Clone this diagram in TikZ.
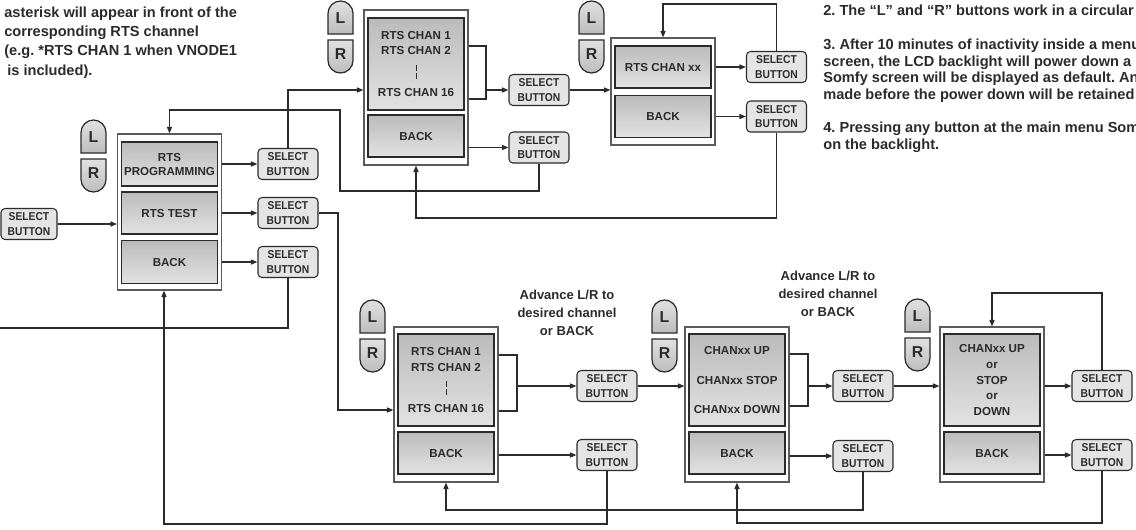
\documentclass[tikz,border=0pt]{standalone}
\usepackage{fontspec}
\setmainfont{Liberation Sans}
\newfontfamily\narrowsans{Liberation Sans}[FakeStretch=0.9]
\usepackage{xcolor}
\usepackage{tikz}
\usetikzlibrary{arrows.meta}
\definecolor{ink}{HTML}{2B2B2B}
\definecolor{rim}{HTML}{5A5A5A}
\definecolor{btnfill}{HTML}{E4E4E4}
\definecolor{shadetop}{HTML}{BBBBBB}
\definecolor{shadebot}{HTML}{E2E2E2}
\newcommand{\pu}{0.02cm}
\newcommand{\boxfont}{\fontsize{6.6}{9.07}\selectfont\bfseries}
\newcommand{\selfont}{\narrowsans\fontsize{6.5}{8.1}\selectfont\bfseries}
\newcommand{\keyfont}{\fontsize{9}{10}\selectfont\bfseries}
\newcommand{\notefont}{\fontsize{8.3}{10.95}\selectfont\bfseries}
\newcommand{\sidefont}{\fontsize{8.3}{9.5}\selectfont\bfseries}
\newcommand{\hintfont}{\fontsize{7.4}{10.2}\selectfont\bfseries}
\tikzset{
  wire/.style={draw=ink,line width=0.8pt},
  arr/.style={wire,-{Triangle[length=1.3mm,width=1mm]}},
  screen/.style={draw=rim,fill=white,line width=0.6pt,minimum width=104*\pu,inner sep=0pt},
  item/.style={draw=ink,line width=0.8pt,top color=shadetop,bottom color=shadebot,minimum width=96*\pu,
    inner sep=0pt,align=center,font=\boxfont,text=ink},
  selbtn/.style={draw=ink,line width=0.6pt,fill=btnfill,rounded corners=0.08cm,minimum width=60*\pu,
    minimum height=31*\pu,inner sep=0pt,align=center,font=\selfont,text=ink},
  keycap/.style={draw=ink,line width=0.7pt,top color=black!12,bottom color=black!26},
  keylbl/.style={font=\keyfont,text=ink,inner sep=0pt},
  note/.style={text=ink,align=left,inner sep=0pt},
  hint/.style={font=\hintfont,text=ink,align=center,inner sep=0pt},
  bars/.style={draw=ink,line width=0.5pt,dash pattern=on 0.12cm off 0.04cm}
}
% L and R keys: #1 name, #2 left x, #3 top y
\newcommand{\lrkeys}[3]{%
  \draw[keycap] (#2,#3+33) -- (#2,#3+12.5) arc[start angle=180,end angle=0,radius=0.25cm] -- (#2+25,#3+33) -- cycle;
  \draw[keycap] (#2,#3+39) -- (#2,#3+59.5) arc[start angle=180,end angle=360,radius=0.25cm] -- (#2+25,#3+39) -- cycle;
  \node[keylbl] (#1L) at (#2+12.5,#3+17.5) {L};
  \node[keylbl] (#1R) at (#2+12.5,#3+53) {R};}
\frenchspacing

\begin{document}
\begin{tikzpicture}[x=\pu,y=-\pu]
\useasboundingbox (0,0) rectangle (1136,529);
\fill[white] (0,0) rectangle (1136,529);

% notes
\node[note,font=\notefont,anchor=north west] (noteL) at (4,6.5) {asterisk will appear in front of the\\corresponding RTS channel\\(e.g. *RTS CHAN 1 when VNODE1\\\hspace*{0.06cm}is included).};
\node[note,font=\sidefont,anchor=north west] (noteR) at (823,5) {2. The “L” and “R” buttons work in a circular\\[9.5pt]3. After 10 minutes of inactivity inside a menu\\screen, the LCD backlight will power down a\\Somfy screen will be displayed as default. An\\made before the power down will be retained\\[9.5pt]4. Pressing any button at the main menu Som\\on the backlight.};
\node[hint,anchor=north] (advD) at (567,289.5) {Advance L/R to\\desired channel\\or BACK};
\node[hint,anchor=north] (advE) at (828,270.5) {Advance L/R to\\desired channel\\or BACK};

% main menu
\node[screen,minimum height=156*\pu] (scrA) at (169.5,212) {};
\node[item,minimum height=44*\pu] (progA) at (169.5,164) {RTS\\[-1.1pt]PROGRAMMING};
\node[item,minimum height=42*\pu] (testA) at (169.5,213) {RTS TEST};
\node[item,minimum height=43*\pu] (backA) at (169.5,262) {BACK};
\node[selbtn,minimum width=56*\pu] (selIn) at (29,224) {SELECT\\BUTTON};
\node[selbtn] (selA1) at (288,164) {SELECT\\BUTTON};
\node[selbtn] (selA2) at (288,213) {SELECT\\BUTTON};
\node[selbtn] (selA3) at (288,262) {SELECT\\BUTTON};
\lrkeys{A}{81}{120}
\coordinate (retA) at ([xshift=-0.11cm]scrA.south);
\coordinate (exitA) at (-4,328);
\draw[arr] (selIn.east) -- (selIn.east -| scrA.west);
\draw[arr] (scrA.east |- progA) -- (selA1.west);
\draw[arr] (scrA.east |- testA) -- (selA2.west);
\draw[arr] (scrA.east |- backA) -- (selA3.west);
\draw[wire] (selA3.south) |- (exitA);

% channel list
\node[screen,minimum height=155*\pu] (scrB) at (416,87.5) {};
\node[item,minimum height=92*\pu] (listB) at (416,64) {RTS CHAN 1\\RTS CHAN 2\\[14.8pt]RTS CHAN 16};
\node[item,minimum height=42*\pu] (backB) at (416,136) {BACK};
\draw[bars] ([yshift=-0.02cm]listB.center) -- ([yshift=-0.30cm]listB.center);
\node[selbtn] (selB1) at (539,90) {SELECT\\BUTTON};
\node[selbtn] (selB2) at (539,147.5) {SELECT\\BUTTON};
\lrkeys{B}{328}{1}
\draw[wire] (scrB.east |- 0,46) -| (486,99) -- (scrB.east |- 0,99);
\draw[arr] (selB1 -| 486,0) -- (selB1.west);
\draw[arr] (scrB.east |- selB2) -- (selB2.west);
\draw[arr] (selA1.north) |- (selB1 -| scrB.west);
\draw[arr] (selB2.south) |- (340,191) |- (scrA.north |- 0,110) -- (scrA.north);

% channel picked
\node[screen,minimum height=107*\pu] (scrC) at (663,91.5) {};
\node[item,minimum height=42*\pu] (chanC) at (663,67) {RTS CHAN xx};
\node[item,minimum height=42*\pu] (backC) at (663,116.5) {BACK};
\node[selbtn] (selC1) at (776.5,67) {SELECT\\BUTTON};
\node[selbtn] (selC2) at (776.5,116.5) {SELECT\\BUTTON};
\lrkeys{C}{579}{1}
\draw[arr] (selB1.east) -- (selB1 -| scrC.west);
\draw[arr] (scrC.east |- selC1) -- (selC1.west);
\draw[arr] (scrC.east |- selC2) -- (selC2.west);
\draw[arr] (selC1.north) |- (scrC.north |- 0,4) -- (scrC.north);
\draw[arr] (selC2.south) |- (scrB.south |- 0,218) -- (scrB.south);

% test: channel list
\node[screen,minimum height=155*\pu] (scrD) at (446,404.5) {};
\node[item,minimum height=92*\pu] (listD) at (446,380) {RTS CHAN 1\\RTS CHAN 2\\[14.8pt]RTS CHAN 16};
\node[item,minimum height=42*\pu] (backD) at (446,453) {BACK};
\draw[bars] ([yshift=-0.02cm]listD.center) -- ([yshift=-0.30cm]listD.center);
\node[selbtn] (selD1) at (607,386) {SELECT\\BUTTON};
\node[selbtn] (selD2) at (607,455) {SELECT\\BUTTON};
\lrkeys{D}{360}{300}
\draw[wire] (scrD.east |- 0,355) -| (517,411) -- (scrD.east |- 0,411);
\draw[arr] (selD1 -| 517,0) -- (selD1.west);
\draw[arr] (scrD.east |- selD2) -- (selD2.west);
\draw[arr] (selA2.east) -| (338,410) -- (scrD.west |- 0,410);

% test: command list
\node[screen,minimum height=155*\pu] (scrE) at (737,404.5) {};
\node[item,minimum height=92*\pu] (listE) at (737,380) {CHANxx UP\\[8pt]CHANxx STOP\\[8pt]CHANxx DOWN};
\node[item,minimum height=42*\pu] (backE) at (737,453) {BACK};
\node[selbtn] (selE1) at (863,386) {SELECT\\BUTTON};
\node[selbtn] (selE2) at (863,456) {SELECT\\BUTTON};
\lrkeys{E}{652}{300}
\draw[wire] (scrE.east |- 0,354) -| (808,406) -- (scrE.east |- 0,406);
\draw[arr] (selE1 -| 808,0) -- (selE1.west);
\draw[arr] (scrE.east |- selE2) -- (selE2.west);
\draw[arr] (selD1.east) -- (selD1 -| scrE.west);

% test: sending
\node[screen,minimum height=155*\pu] (scrF) at (992,404.5) {};
\node[item,minimum height=92*\pu] (listF) at (992,380) {CHANxx UP\\or\\STOP\\or\\DOWN};
\node[item,minimum height=42*\pu] (backF) at (992,453) {BACK};
\node[selbtn] (selF1) at (1102,386) {SELECT\\BUTTON};
\node[selbtn] (selF2) at (1102,455) {SELECT\\BUTTON};
\lrkeys{F}{905}{299}
\draw[arr] (selE1.east) -- (selE1 -| scrF.west);
\draw[arr] (scrF.east |- selF1) -- (selF1.west);
\draw[arr] (scrF.east |- selF2) -- (selF2.west);
\draw[arr] (selF1.north) |- (scrF.north |- 0,293) -- (scrF.north);

% back paths
\draw[arr] (selF2.south) |- (scrE.south |- 0,523) -- (scrE.south);
\draw[arr] (selE2.south) |- (scrD.south |- 0,510) -- (scrD.south);
\draw[arr] (selD2.south) |- (retA |- 0,524) -- (retA);
\end{tikzpicture}
\end{document}
